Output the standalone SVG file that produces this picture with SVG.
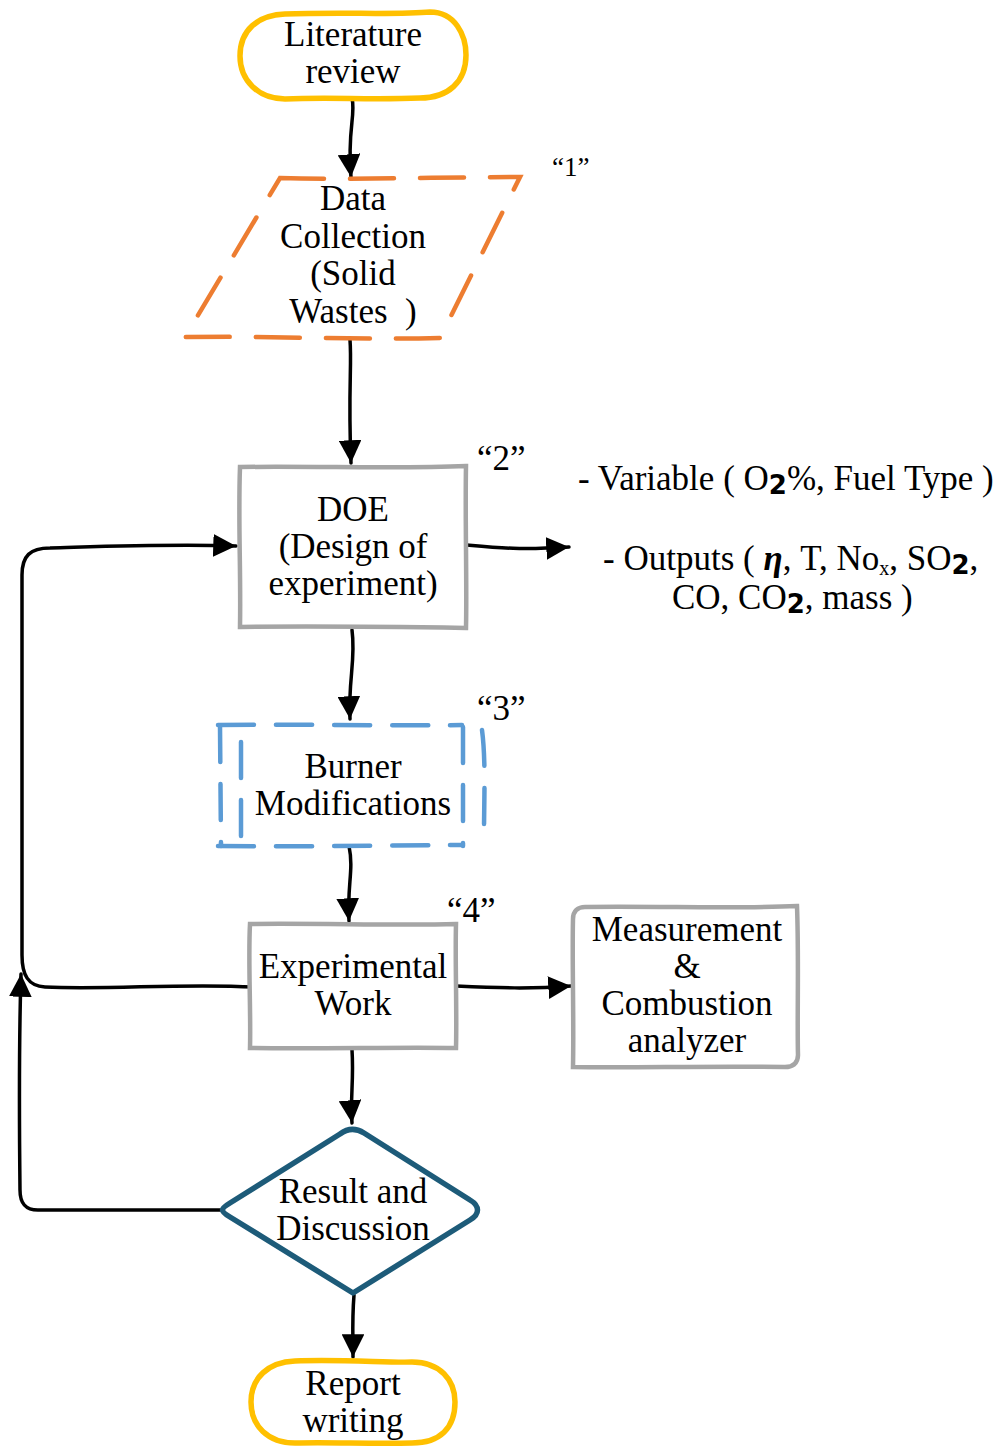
<svg xmlns="http://www.w3.org/2000/svg" width="995" height="1448" viewBox="0 0 995 1448">
<defs>
<marker id="ah" viewBox="0 0 10 10" refX="10" refY="5" markerWidth="6.5" markerHeight="6.5" markerUnits="strokeWidth" orient="auto">
<path d="M0,0 L10,5 L0,10 Z" fill="#000"/>
</marker>
<style>
text{font-family:"Liberation Serif","Times New Roman",serif;font-size:35px;fill:#000;text-anchor:middle}
.lbl{text-anchor:start}
.conn{fill:none;stroke:#000;stroke-width:3.5;stroke-linecap:round;stroke-linejoin:round}
.arr{marker-end:url(#ah)}
.term{fill:#fff;stroke:#FFC000;stroke-width:5.5}
.proc{fill:#fff;stroke:#A5A5A5;stroke-width:4.5}
.data{fill:none;stroke:#ED7D31;stroke-width:4.5;stroke-dasharray:44 26;stroke-linecap:round}
.mod{fill:none;stroke:#5B9BD5;stroke-width:4.5;stroke-dasharray:36 22;stroke-linecap:round}
.dec{fill:#fff;stroke:#1D5B79;stroke-width:5.5;stroke-linejoin:round}
.sub{font-size:26px;font-weight:bold;font-family:"DejaVu Sans","Liberation Sans",sans-serif}
</style>
</defs>

<g id="connectors">
<path class="conn arr" d="M352,98 C356,115 347,130 351,177"/>
<path class="conn arr" d="M350,340 C352,365 348,390 351,463"/>
<path class="conn arr" d="M467,545 C500,548 520,550 569,547"/>
<path class="conn arr" d="M352,630 C356,660 348,680 350,719"/>
<path class="conn arr" d="M349,846 C354,870 347,885 349,921"/>
<path class="conn arr" d="M456,986 C500,988 530,989 571,986"/>
<path class="conn arr" d="M352,1050 C354,1080 350,1100 352,1123"/>
<path class="conn arr" d="M354,1295 C352,1320 353,1335 353,1357"/>
<path class="conn arr" d="M254,987 C180,983 110,990 45,987 C28,986 22,975 22,955 L22,575 C22,556 30,548 50,548 C120,546 170,544 236,546"/>
<path class="conn arr" d="M220,1210 L38,1210 C25,1210 20,1203 20,1190 C19,1100 19,1040 21,974"/>
</g>

<g id="literature">
<path class="term" d="M285,14 C340,12 400,15 430,12 C455,12 466,35 466,55 C466,82 448,98 420,98 C370,100 330,97 285,99 C258,99 240,80 240,56 C240,30 258,15 285,14 Z"/>
<text x="353" y="46">Literature</text>
<text x="353" y="83">review</text>
</g>

<g id="data-collection">
<path class="data" d="M280,178 C360,180 440,177 520,177 L440,338 C360,340 270,336 185,337 Z"/>
<text x="353" y="210">Data</text>
<text x="353" y="248">Collection</text>
<text x="353" y="285">(Solid</text>
<text x="353" y="323">Wastes&#160; )</text>
<text class="lbl" x="552" y="176" style="font-size:27px">“1”</text>
</g>

<g id="doe">
<path class="proc" d="M240,467 C320,466 400,469 466,466 C465,520 467,580 466,628 C400,627 320,626 240,627 C241,570 238,520 240,467 Z"/>
<text x="353" y="521">DOE</text>
<text x="353" y="558">(Design of</text>
<text x="353" y="595">experiment)</text>
<text class="lbl" x="477" y="470">“2”</text>
</g>

<g id="doe-notes">
<text class="lbl" x="578" y="490">- Variable ( O<tspan class="sub" dy="4">2</tspan><tspan dy="-4">%, Fuel Type )</tspan></text>
<text class="lbl" x="603" y="570">- Outputs ( <tspan font-style="italic" font-weight="bold">η</tspan>, T, No<tspan style="font-size:20px" dy="5">x</tspan><tspan dy="-5">, SO</tspan><tspan class="sub" dy="4">2</tspan><tspan dy="-4">,</tspan></text>
<text class="lbl" x="672" y="609">CO, CO<tspan class="sub" dy="4">2</tspan><tspan dy="-4">, mass )</tspan></text>
</g>

<g id="burner">
<rect x="228" y="730" width="248" height="110" fill="#fff"/>
<path class="mod" d="M218,725 C300,724 400,726 462,725"/>
<path class="mod" d="M218,846 C300,847 400,845 462,845"/>
<path class="mod" d="M220,726 L221,846"/>
<path class="mod" d="M241,742 L241,846"/>
<path class="mod" d="M463,727 L463,846"/>
<path class="mod" d="M482,730 C486,760 484,800 484,834"/>
<text x="353" y="778">Burner</text>
<text x="353" y="815">Modifications</text>
<text class="lbl" x="477" y="720">“3”</text>
</g>

<g id="experimental">
<path class="proc" d="M250,924 C320,923 400,926 456,924 C455,960 457,1010 456,1048 C400,1047 320,1049 250,1048 C251,1010 248,960 250,924 Z"/>
<text x="353" y="978">Experimental</text>
<text x="353" y="1015">Work</text>
<text class="lbl" x="447" y="922">“4”</text>
</g>

<g id="measurement">
<path class="proc" d="M585,907 C660,906 740,909 797,906 C799,960 797,1020 798,1055 C798,1064 792,1067 785,1067 C700,1066 630,1068 573,1067 C574,1020 572,960 573,919 C573,911 578,907 585,907 Z"/>
<text x="687" y="941">Measurement</text>
<text x="687" y="978">&amp;</text>
<text x="687" y="1015">Combustion</text>
<text x="687" y="1052">analyzer</text>
</g>

<g id="result">
<path class="dec" d="M340,1134 C348,1128 356,1128 364,1133 L470,1200 C480,1206 480,1214 470,1220 L353,1293 L230,1217 C220,1211 220,1209 230,1203 Z"/>
<text x="353" y="1203">Result and</text>
<text x="353" y="1240">Discussion</text>
</g>

<g id="report">
<path class="term" d="M295,1361 C340,1359 390,1363 412,1362 C440,1362 455,1380 455,1402 C455,1428 440,1443 412,1443 C370,1444 330,1442 295,1443 C268,1443 251,1426 251,1402 C251,1378 268,1362 295,1361 Z"/>
<text x="353" y="1395">Report</text>
<text x="353" y="1432">writing</text>
</g>
</svg>
